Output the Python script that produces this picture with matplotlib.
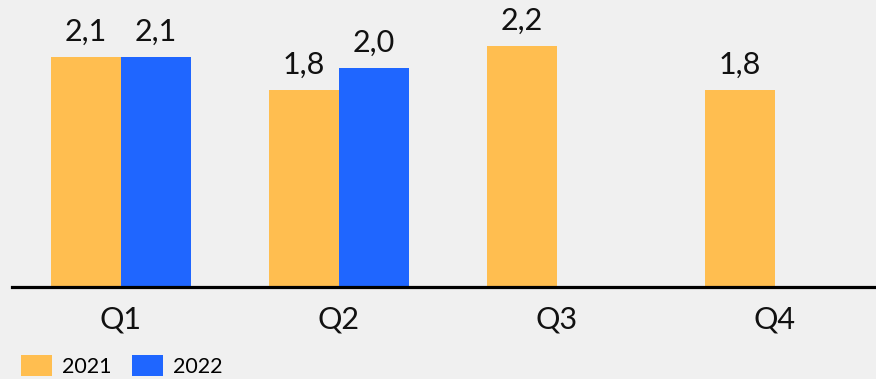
import matplotlib
matplotlib.use("Agg")
import matplotlib.pyplot as plt
from matplotlib.patches import Patch
import numpy as np

quarters = ["Q1", "Q2", "Q3", "Q4"]
series_names = ["2021", "2022"]
values_2021 = [2.1, 1.8, 2.2, 1.8]
values_2022 = [2.1, 2.0, None, None]

orange = "#FFBE50"
blue = "#1F66FF"
bg = "#F0F0F0"
ink = "#111111"

plt.rcParams["font.family"] = ["Lato", "DejaVu Sans"]

fig = plt.figure(figsize=(8.76, 3.79), dpi=100, facecolor=bg)
W, H = 876, 379
# axes spanning slightly past the right edge so groups are evenly spaced
ax = fig.add_axes([12 / W, (H - 287) / H, 872 / W, 287 / H])
ax.set_facecolor(bg)

x = np.arange(len(quarters))
bw = 70 / 218

def fmt(v):
    return f"{v:.1f}".replace(".", ",")

for i, (a, b) in enumerate(zip(values_2021, values_2022)):
    ax.bar(x[i] - bw / 2, a, width=bw, color=orange, zorder=2)
    ax.text(x[i] - bw / 2, a + 0.1, fmt(a), ha="center", va="bottom",
            fontsize=22, color=ink)
    if b is not None:
        ax.bar(x[i] + bw / 2, b, width=bw, color=blue, zorder=2)
        ax.text(x[i] + bw / 2, b + 0.1, fmt(b), ha="center", va="bottom",
                fontsize=22, color=ink)

ax.set_xlim(-0.5, 3.5)
ax.set_ylim(0, 2.62)
for s in ["top", "right", "left"]:
    ax.spines[s].set_visible(False)
ax.spines["bottom"].set_linewidth(2.3)
ax.spines["bottom"].set_color("#000000")
ax.set_yticks([])
ax.set_xticks(x)
ax.set_xticklabels(quarters, fontsize=22, color=ink)
ax.tick_params(axis="x", length=0, pad=13)

handles = [Patch(facecolor=orange), Patch(facecolor=blue)]
fig.legend(handles, series_names, loc="lower left", bbox_to_anchor=(21 / W, 0.006),
           ncol=2, frameon=False, fontsize=15.5, handlelength=1.45, handleheight=1.1,
           handletextpad=0.45, columnspacing=0.95, borderpad=0, borderaxespad=0)

fig.savefig("out.png", dpi=100, facecolor=bg)
